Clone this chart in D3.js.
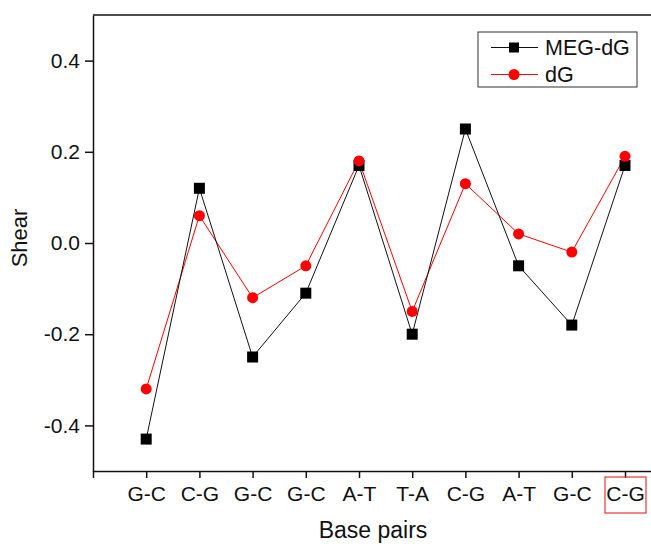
<!DOCTYPE html>
<html>
<head>
<meta charset="utf-8">
<script src="https://cdn.jsdelivr.net/npm/d3@7"></script>
<style>
  body { margin: 0; background: #fff; }
  text { font-family: "Liberation Sans", Arial, sans-serif; fill: #111; }
</style>
</head>
<body>
<svg width="651" height="544"></svg>
<script>
// base pairs along the x axis
const basePairs = ["G-C", "C-G", "G-C", "G-C", "A-T", "T-A", "C-G", "A-T", "G-C", "C-G"]
// shear values
const megDG = [-0.43, 0.12, -0.25, -0.11, 0.17, -0.20, 0.25, -0.05, -0.18, 0.17]
const dG = [-0.32, 0.06, -0.12, -0.05, 0.18, -0.15, 0.13, 0.02, -0.02, 0.19]
const yTicks = [-0.4, -0.2, 0.0, 0.2, 0.4]

const svg = d3.select('svg')
const plotLeft = 93, plotTop = 15, plotBottom = 471
const step = 53.2

// index 0 sits on the y axis, categories go from 1 to 10
const x = d3.scaleLinear().domain([0, 11]).range([plotLeft, plotLeft + 11 * step])
const y = d3.scaleLinear().domain([-0.5, 0.5]).range([plotBottom, plotTop])

// frame: top line, left axis, bottom axis
svg.append('line')
  .attr('x1', plotLeft).attr('x2', x(11)).attr('y1', plotTop).attr('y2', plotTop)
  .attr('stroke', '#111').attr('stroke-width', 1.5)

const yAxis = svg.append('g')
  .attr('transform', `translate(${plotLeft},0)`)
  .call(d3.axisLeft(y).tickValues(yTicks).tickSize(8).tickSizeOuter(0))
yAxis.select('.domain').attr('stroke', '#111').attr('stroke-width', 1.5)
yAxis.selectAll('.tick line').attr('stroke', '#111').attr('stroke-width', 1.5)
yAxis.selectAll('.tick text').attr('font-size', 21).attr('x', -13)
  .text(d => d3.format('.1f')(d).replace('−', '-'))

const xAxis = svg.append('g')
  .attr('transform', `translate(0,${plotBottom})`)
  .call(d3.axisBottom(x).tickValues(d3.range(0, 11)).tickFormat(i => i == 0 ? '' : basePairs[i - 1])
    .tickSize(7).tickSizeOuter(0))
xAxis.select('.domain').attr('stroke', '#111').attr('stroke-width', 1.5)
xAxis.selectAll('.tick line').attr('stroke', '#111').attr('stroke-width', 1.5)
xAxis.selectAll('.tick text').attr('font-size', 21).attr('y', 15)

// red box round the last label
const lastX = x(10)
svg.append('rect')
  .attr('x', lastX - 20).attr('y', plotBottom + 6).attr('width', 41).attr('height', 36)
  .attr('fill', 'none').attr('stroke', '#e33').attr('stroke-width', 1.2)

// axis titles
svg.append('text')
  .attr('transform', `translate(27,${y(0) - 5}) rotate(-90)`)
  .attr('text-anchor', 'middle').attr('font-size', 22)
  .text('Shear')
svg.append('text')
  .attr('x', 373).attr('y', 538)
  .attr('text-anchor', 'middle').attr('font-size', 23)
  .text('Base pairs')

// series
const line = d3.line().x((d, i) => x(i + 1)).y(d => y(d))

svg.append('path').datum(dG)
  .attr('d', line).attr('fill', 'none').attr('stroke', '#f00').attr('stroke-width', 1)
svg.append('path').datum(megDG)
  .attr('d', line).attr('fill', 'none').attr('stroke', '#111').attr('stroke-width', 1)

svg.append('g').selectAll('rect')
  .data(megDG)
  .enter().append('rect')
    .attr('x', (d, i) => x(i + 1) - 5.5).attr('y', d => y(d) - 5.5)
    .attr('width', 11).attr('height', 11).attr('fill', '#000')
svg.append('g').selectAll('circle')
  .data(dG)
  .enter().append('circle')
    .attr('cx', (d, i) => x(i + 1)).attr('cy', d => y(d))
    .attr('r', 5.5).attr('fill', '#f00')

// legend
const legend = svg.append('g')
legend.append('rect')
  .attr('x', 478).attr('y', 32).attr('width', 159).attr('height', 55)
  .attr('fill', '#fff').attr('stroke', '#333').attr('stroke-width', 1)
const entries = [
  { name: 'MEG-dG', color: '#111', marker: 'square' },
  { name: 'dG', color: '#f00', marker: 'circle' }
]
entries.forEach(function(e, k) {
  const cy = 47.5 + k * 27
  legend.append('line')
    .attr('x1', 491).attr('x2', 538).attr('y1', cy).attr('y2', cy)
    .attr('stroke', e.color).attr('stroke-width', 1)
  if (e.marker == 'square') {
    legend.append('rect').attr('x', 509).attr('y', cy - 5).attr('width', 10).attr('height', 10).attr('fill', '#000')
  } else {
    legend.append('circle').attr('cx', 514).attr('cy', cy).attr('r', 5.5).attr('fill', '#f00')
  }
  legend.append('text')
    .attr('x', 545).attr('y', cy + 7.5).attr('font-size', 21.5)
    .text(e.name)
})
</script>
</body>
</html>
